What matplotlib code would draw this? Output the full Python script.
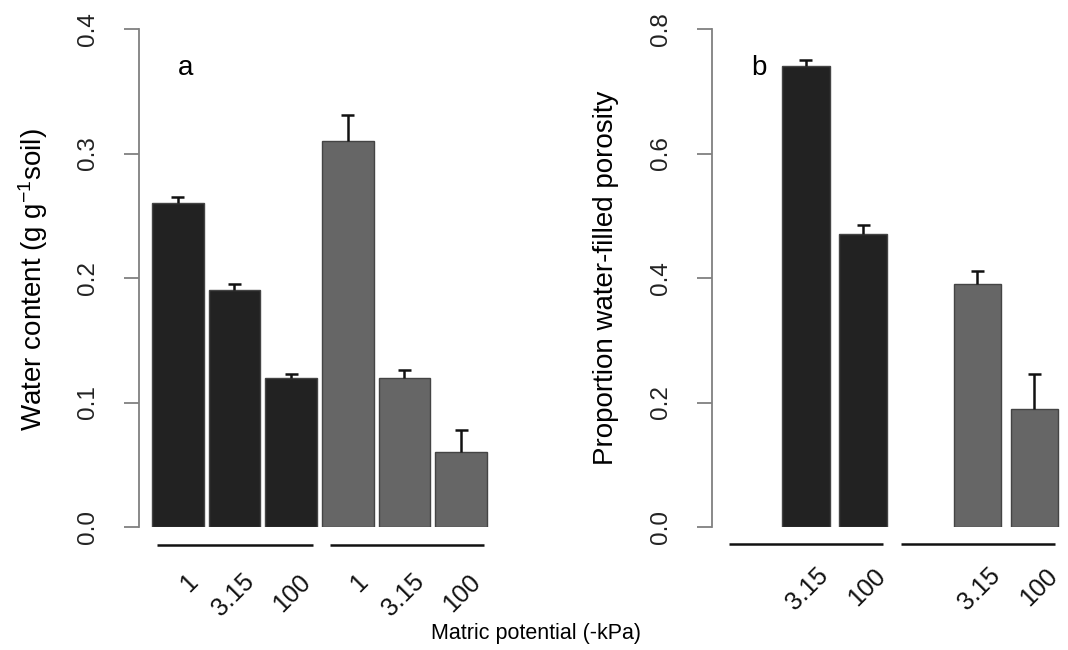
import matplotlib
matplotlib.use("Agg")
import matplotlib.pyplot as plt
import numpy as np

plt.rcParams['font.family'] = ['Liberation Sans', 'DejaVu Sans']
plt.rcParams['mathtext.fontset'] = 'custom'
plt.rcParams['mathtext.rm'] = 'Liberation Sans'
plt.rcParams['mathtext.default'] = 'regular'

# ---- data ----
labels_a = ["1", "3.15", "100", "1", "3.15", "100"]
water_content = [0.26, 0.19, 0.12, 0.31, 0.12, 0.06]
water_content_err = [0.005, 0.005, 0.003, 0.021, 0.006, 0.018]
colors_a = ["#222222", "#222222", "#222222", "#666666", "#666666", "#666666"]

labels_b = ["", "3.15", "100", "", "3.15", "100"]
wfps = [None, 0.74, 0.47, None, 0.39, 0.19]
wfps_err = [None, 0.011, 0.015, None, 0.021, 0.056]
colors_b = colors_a

W, H = 1068, 650
fig = plt.figure(figsize=(W / 100, H / 100), dpi=100)

def px_axes(left, right, top, bottom):
    return fig.add_axes([left / W, 1 - bottom / H, (right - left) / W, (bottom - top) / H])

FS_TICK = 17.5
FS_XT = 18
FS_YLAB = 20
FS_XLAB = 15.5
FS_PANEL = 20
edge = "#444444"
axcol = "#808080"

def style(ax, yticks):
    for s in ["top", "right", "bottom"]:
        ax.spines[s].set_visible(False)
    ax.spines["left"].set_color(axcol)
    ax.spines["left"].set_linewidth(1.3)
    ax.set_yticks(yticks)
    ax.set_yticklabels([f"{t:.1f}" for t in yticks], rotation=90, va="center",
                       fontsize=FS_TICK, color="#222222")
    ax.tick_params(axis="y", length=11, width=1.3, color=axcol, pad=18)
    ax.set_xticks([])

def draw(ax, vals, errs, colors, space, labels, capw, lab_off, groups, line_y):
    n = len(vals)
    centers = [space + 0.5 + i * (1 + space) for i in range(n)]
    for c, v, e, col in zip(centers, vals, errs, colors):
        if v is None:
            continue
        ax.bar(c, v, width=1.0, color=col, edgecolor=edge, linewidth=1.0, zorder=2)
        ax.vlines(c, v, v + e, color="#111111", linewidth=1.8, zorder=3)
        ax.hlines(v + e, c - capw, c + capw, color="#111111", linewidth=1.8, zorder=3)
    for c, lbl in zip(centers, labels):
        if not lbl:
            continue
        ax.annotate(lbl, xy=(c, 0), xycoords=("data", "axes fraction"),
                    xytext=lab_off, textcoords="offset pixels",
                    rotation=45, ha="right", va="center", rotation_mode="anchor",
                    fontsize=FS_XT, color="#111111", annotation_clip=False)
    for g0, g1 in groups:
        ax.plot([g0, g1], [line_y, line_y], transform=ax.get_xaxis_transform(),
                color="#111111", linewidth=1.8, clip_on=False, solid_capstyle="butt")
    return centers

# ---- panel a ----
ax1 = px_axes(139, 492, 29, 527)
ax1.set_xlim(-0.152, 6.7)
ax1.set_ylim(0, 0.4)
style(ax1, [0.0, 0.1, 0.2, 0.3, 0.4])
draw(ax1, water_content, water_content_err, colors_a, 0.1, labels_a, 0.125,
     (16, -51), [(0.2, 3.23), (3.56, 6.55)], -18 / 498)
fig.text(186 / W, 1 - 68 / H, "a", fontsize=FS_PANEL, ha="center", va="center")

# ---- panel b ----
ax2 = px_axes(712, 1063, 29, 527)
ax2.set_xlim(-0.073, 7.3)
ax2.set_ylim(0, 0.8)
style(ax2, [0.0, 0.2, 0.4, 0.6, 0.8])
draw(ax2, wfps, wfps_err, colors_b, 0.2, labels_b, 0.137,
     (19, -45), [(0.29, 3.52), (3.9, 7.13)], -17 / 498)
fig.text(759 / W, 1 - 68 / H, "b", fontsize=FS_PANEL, ha="center", va="center")

# ---- axis titles ----
fig.text(33 / W, 1 - 280 / H, r"Water content (g g$^{-1}$soil)", rotation=90,
         ha="center", va="center", fontsize=FS_YLAB)
fig.text(606 / W, 1 - 278 / H, "Proportion water-filled porosity", rotation=90,
         ha="center", va="center", fontsize=FS_YLAB)
fig.text(536 / W, 1 - 633 / H, "Matric potential (-kPa)", ha="center", va="center",
         fontsize=FS_XLAB)

fig.savefig("out.png", dpi=100)
